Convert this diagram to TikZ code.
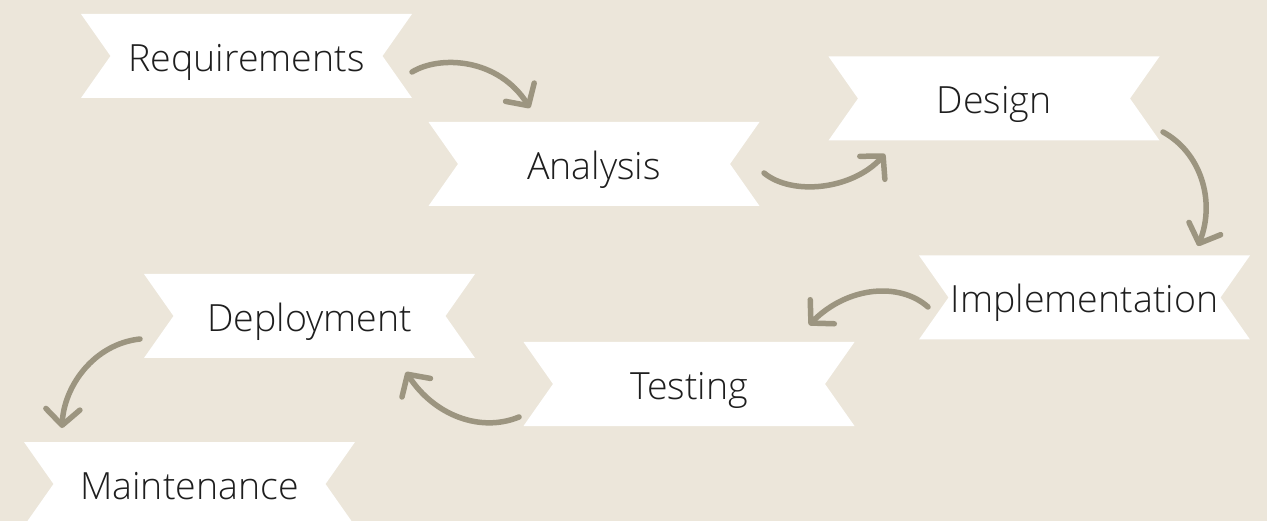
\documentclass[tikz,border=0pt]{standalone}
\usepackage{fontspec}
\setmainfont{Open Sans Light}
\usetikzlibrary{arrows.meta}
\definecolor{bgc}{HTML}{ECE6DA}
\definecolor{arrc}{HTML}{9C9580}
\definecolor{txtc}{HTML}{1E1E1E}
\tikzset{
  banner/.style={minimum width=331pt, minimum height=84pt, inner sep=0pt, outer sep=0pt,
    text height=35pt, text depth=4pt,
    font=\fontsize{37.5}{40}\selectfont, text=txtc,
    path picture={\fill[white] (path picture bounding box.north west) -- (path picture bounding box.north east)
      -- ([xshift=-29.5pt]path picture bounding box.east) -- (path picture bounding box.south east)
      -- (path picture bounding box.south west) -- ([xshift=29.5pt]path picture bounding box.west) -- cycle;}},
  flow/.style={draw=arrc, line width=5.5pt, line cap=round,
    -{Straight Barb[length=16pt, width=34pt, line width=5.5pt, line cap=round, round]}}
}
\begin{document}
\begin{tikzpicture}[x=1pt, y=-1pt]
\useasboundingbox (0,0) rectangle (1267,521);
\fill[bgc] (0,0) rectangle (1267,521);
\node[banner] (req) at (246.5,56) {Requirements};
\node[banner] (ana) at (594,164) {Analysis};
\node[banner] (des) at (994,98.5) {Design};
\node[banner] (imp) at (1084.5,297.5) {Implementation};
\node[banner] (tes) at (689,384) {Testing};
\node[banner] (dep) at (309.5,316) {Deployment};
\node[banner] (mai) at (189.5,484) {Maintenance};
\coordinate (a1s) at (412,72);   \coordinate (a1e) at (530,108);
\coordinate (a2s) at (764,173);  \coordinate (a2e) at (885,154);
\coordinate (a3s) at (1163,132); \coordinate (a3e) at (1198,246);
\coordinate (a4s) at (928,307);  \coordinate (a4e) at (809,325);
\coordinate (a5s) at (519,417);  \coordinate (a5e) at (406,372);
\coordinate (a6s) at (140,339);  \coordinate (a6e) at (62,428);
\draw[flow] (a1s) .. controls (440,55) and (498,58) .. (a1e);
\draw[flow] (a2s) .. controls (792,196) and (852,190) .. (a2e);
\draw[flow] (a3s) .. controls (1200,152) and (1216,200) .. (a3e);
\draw[flow] (a4s) .. controls (900,282) and (848,286) .. (a4e);
\draw[flow] (a5s) .. controls (480,433) and (434,415) .. (a5e);
\draw[flow] (a6s) .. controls (94,344) and (64,386) .. (a6e);
\end{tikzpicture}
\end{document}
